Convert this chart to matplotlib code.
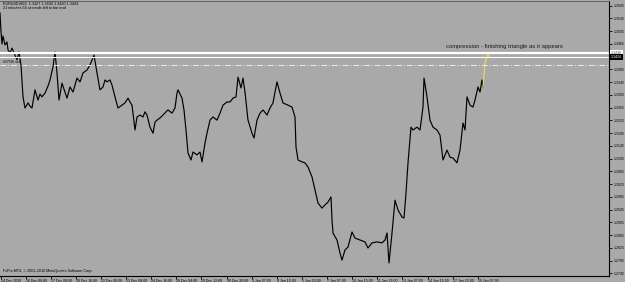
import matplotlib
matplotlib.use("Agg")
import matplotlib.pyplot as plt

plt.rcParams['font.family'] = ['Liberation Sans', 'DejaVu Sans']

# price path (bar index, close)
bars = [0, 1, 2, 3, 5, 7, 8, 10, 12, 15, 17, 19, 21, 23, 25, 28, 30, 32, 35, 38,
        40, 42, 45, 48, 50, 53, 55, 57, 59, 62, 65, 67, 70, 73, 75, 77, 80, 83, 87, 90,
        94, 97, 100, 103, 105, 107, 110, 112, 115, 118, 122, 125, 128, 130, 132, 135, 137, 140, 143, 145,
        147, 150, 153, 155, 157, 160, 163, 166, 168, 172, 175, 177, 178, 182, 184, 186, 188, 191, 193, 197,
        200, 202, 205, 207, 210, 213, 217, 220, 223, 227, 230, 233, 236, 238, 241, 243, 245, 248, 252, 254,
        257, 260, 263, 267, 270, 273, 275, 277, 280, 283, 288, 292, 295, 296, 298, 302, 305, 308, 312, 315,
        318, 322, 325, 328, 331, 332, 333, 337, 340, 342, 345, 348, 352, 355, 360, 365, 368, 372, 377, 382,
        385, 387, 389, 392, 395, 398, 402, 404, 406, 408, 411, 413, 417, 420, 423, 424, 427, 430, 433, 437,
        440, 443, 447, 450, 453, 457, 460, 463, 465, 467, 470, 473, 475, 478, 480, 482, 483]
close = [1.3562, 1.3503, 1.3465, 1.3490, 1.3462, 1.3471, 1.3446, 1.3437, 1.3452, 1.3430,
         1.3415, 1.3440, 1.3399, 1.3299, 1.3264, 1.3280, 1.3270, 1.3264, 1.3321, 1.3289,
         1.3308, 1.3299, 1.3311, 1.3333, 1.3352, 1.3393, 1.3440, 1.3374, 1.3289, 1.3342,
         1.3314, 1.3295, 1.3330, 1.3314, 1.3336, 1.3358, 1.3346, 1.3374, 1.3383, 1.3399,
         1.3430, 1.3374, 1.3321, 1.3330, 1.3352, 1.3346, 1.3352, 1.3336, 1.3299, 1.3264,
         1.3273, 1.3280, 1.3295, 1.3283, 1.3273, 1.3195, 1.3236, 1.3242, 1.3236, 1.3252,
         1.3242, 1.3204, 1.3185, 1.3220, 1.3226, 1.3233, 1.3242, 1.3252, 1.3258, 1.3248,
         1.3264, 1.3311, 1.3321, 1.3295, 1.3258, 1.3195, 1.3123, 1.3101, 1.3126, 1.3117,
         1.3126, 1.3095, 1.3154, 1.3185, 1.3226, 1.3236, 1.3226, 1.3248, 1.3273, 1.3283,
         1.3283, 1.3295, 1.3299, 1.3361, 1.3327, 1.3358, 1.3314, 1.3226, 1.3185, 1.3170,
         1.3226, 1.3248, 1.3258, 1.3242, 1.3264, 1.3280, 1.3314, 1.3346, 1.3311, 1.3280,
         1.3273, 1.3267, 1.3236, 1.3142, 1.3101, 1.3095, 1.3092, 1.3079, 1.3048, 1.3007,
         1.2966, 1.2950, 1.2960, 1.2969, 1.2985, 1.2913, 1.2872, 1.2850, 1.2809, 1.2787,
         1.2819, 1.2828, 1.2875, 1.2856, 1.2850, 1.2844, 1.2825, 1.2841, 1.2844, 1.2841,
         1.2850, 1.2872, 1.2778, 1.2872, 1.2975, 1.2944, 1.2922, 1.2919, 1.2997, 1.3092,
         1.3204, 1.3195, 1.3204, 1.3195, 1.3267, 1.3358, 1.3299, 1.3226, 1.3204, 1.3195,
         1.3179, 1.3101, 1.3132, 1.3110, 1.3107, 1.3092, 1.3132, 1.3217, 1.3195, 1.3299,
         1.3273, 1.3267, 1.3289, 1.3330, 1.3314, 1.3352, 1.3330]
# latest bars (highlighted)
last_bars = [483, 485, 487, 488, 489]
last_close = [1.3330, 1.3405, 1.3424, 1.3437, 1.3424]

level_line = 1.3436
bid = 1.3424
order_level = 1.3399

price_ticks = [1.3585, 1.3545, 1.3505, 1.3465, 1.3425, 1.3385, 1.3345, 1.3305, 1.3265, 1.3225,
               1.3185, 1.3145, 1.3105, 1.3065, 1.3025, 1.2985, 1.2945, 1.2905, 1.2865, 1.2825,
               1.2785, 1.2745]
time_ticks = [1, 26, 51, 76, 101, 126, 151, 176, 201, 227, 252, 277, 302, 327, 352, 377, 402, 428, 453, 478]
time_labels = ['14 Dec 2010', '16 Dec 00:00', '17 Dec 08:00', '20 Dec 16:00', '22 Dec 00:00',
               '23 Dec 08:00', '24 Dec 16:00', '28 Dec 04:00', '29 Dec 12:00', '30 Dec 20:00',
               '3 Jan 07:00', '4 Jan 15:00', '5 Jan 23:00', '7 Jan 07:00', '10 Jan 15:00',
               '11 Jan 23:00', '13 Jan 07:00', '14 Jan 15:00', '17 Jan 23:00', '19 Jan 07:00']

bg = '#A9A9A9'
fig = plt.figure(figsize=(6.25, 2.82), dpi=100, facecolor=bg)
ax = fig.add_axes([0.0, 6 / 282, 609 / 625, 275 / 282], facecolor=bg)

ax.plot(bars, close, color='black', lw=0.85)
ax.plot(last_bars, last_close, color='#E6D85A', lw=0.9)

ax.axhline(level_line, color='white', lw=1.6)
ax.axhline(bid, color='white', lw=0.8)
ax.axhline(order_level, color='#EDEDED', lw=0.7, ls=(0, (6, 2, 1, 2)))

ax.set_xlim(0, 609)
ax.set_ylim(1.27371, 1.35997)

ax.yaxis.tick_right()
ax.set_yticks(price_ticks)
ax.set_yticklabels(['' if abs(p - bid) < 0.001 else f'{p:.4f}' for p in price_ticks])
ax.set_xticks(time_ticks)
ax.set_xticklabels(time_labels, ha='left')
ax.tick_params(axis='y', direction='out', length=2, width=0.6, pad=1.5, labelsize=2.5, colors='black')
ax.tick_params(axis='x', direction='out', length=2, width=0.6, pad=0.5, labelsize=2.5, colors='black')

ax.spines['left'].set_visible(False)
ax.spines['top'].set_color('#555555')
ax.spines['top'].set_linewidth(0.6)
for side in ['right', 'bottom']:
    ax.spines[side].set_color('black')
    ax.spines[side].set_linewidth(0.8)

# price boxes on the right scale
ax.annotate(f'{level_line:.4f}', xy=(1.0, level_line), xycoords=('axes fraction', 'data'),
            xytext=(1.5, 0), textcoords='offset points', fontsize=2.5, color='#444444',
            va='center', ha='left', annotation_clip=False,
            bbox=dict(boxstyle='square,pad=0.25', fc='white', ec='none'))
ax.annotate(f'{bid:.4f}', xy=(1.0, bid), xycoords=('axes fraction', 'data'),
            xytext=(1.5, 0), textcoords='offset points', fontsize=2.5, color='white',
            va='center', ha='left', annotation_clip=False,
            bbox=dict(boxstyle='square,pad=0.25', fc='black', ec='none'))

ax.text(3, order_level + 0.0004, '#57596 sell', fontsize=2.4, color='black', va='bottom')

fig.text(3 / 625, 1 - 4 / 282, 'EURUSD,M30  1.3427 1.3430 1.3420 1.3424', fontsize=2.7,
         va='center', ha='left', color='black')
fig.text(3 / 625, 1 - 8 / 282, '21 minutes 56 seconds left to bar end', fontsize=2.7,
         va='center', ha='left', color='black')
fig.text(3 / 625, 1 - 271 / 282, 'FxPro MT4, \u00a9 2001-2010 MetaQuotes Software Corp.', fontsize=2.7,
         va='center', ha='left', color='black')

ax.text(504, 1.3449, 'compression - finishing triangle as it appears', fontsize=4.2,
        color='#1A1A1A', ha='center', va='bottom')

fig.savefig('out.png', dpi=100, facecolor=bg)
